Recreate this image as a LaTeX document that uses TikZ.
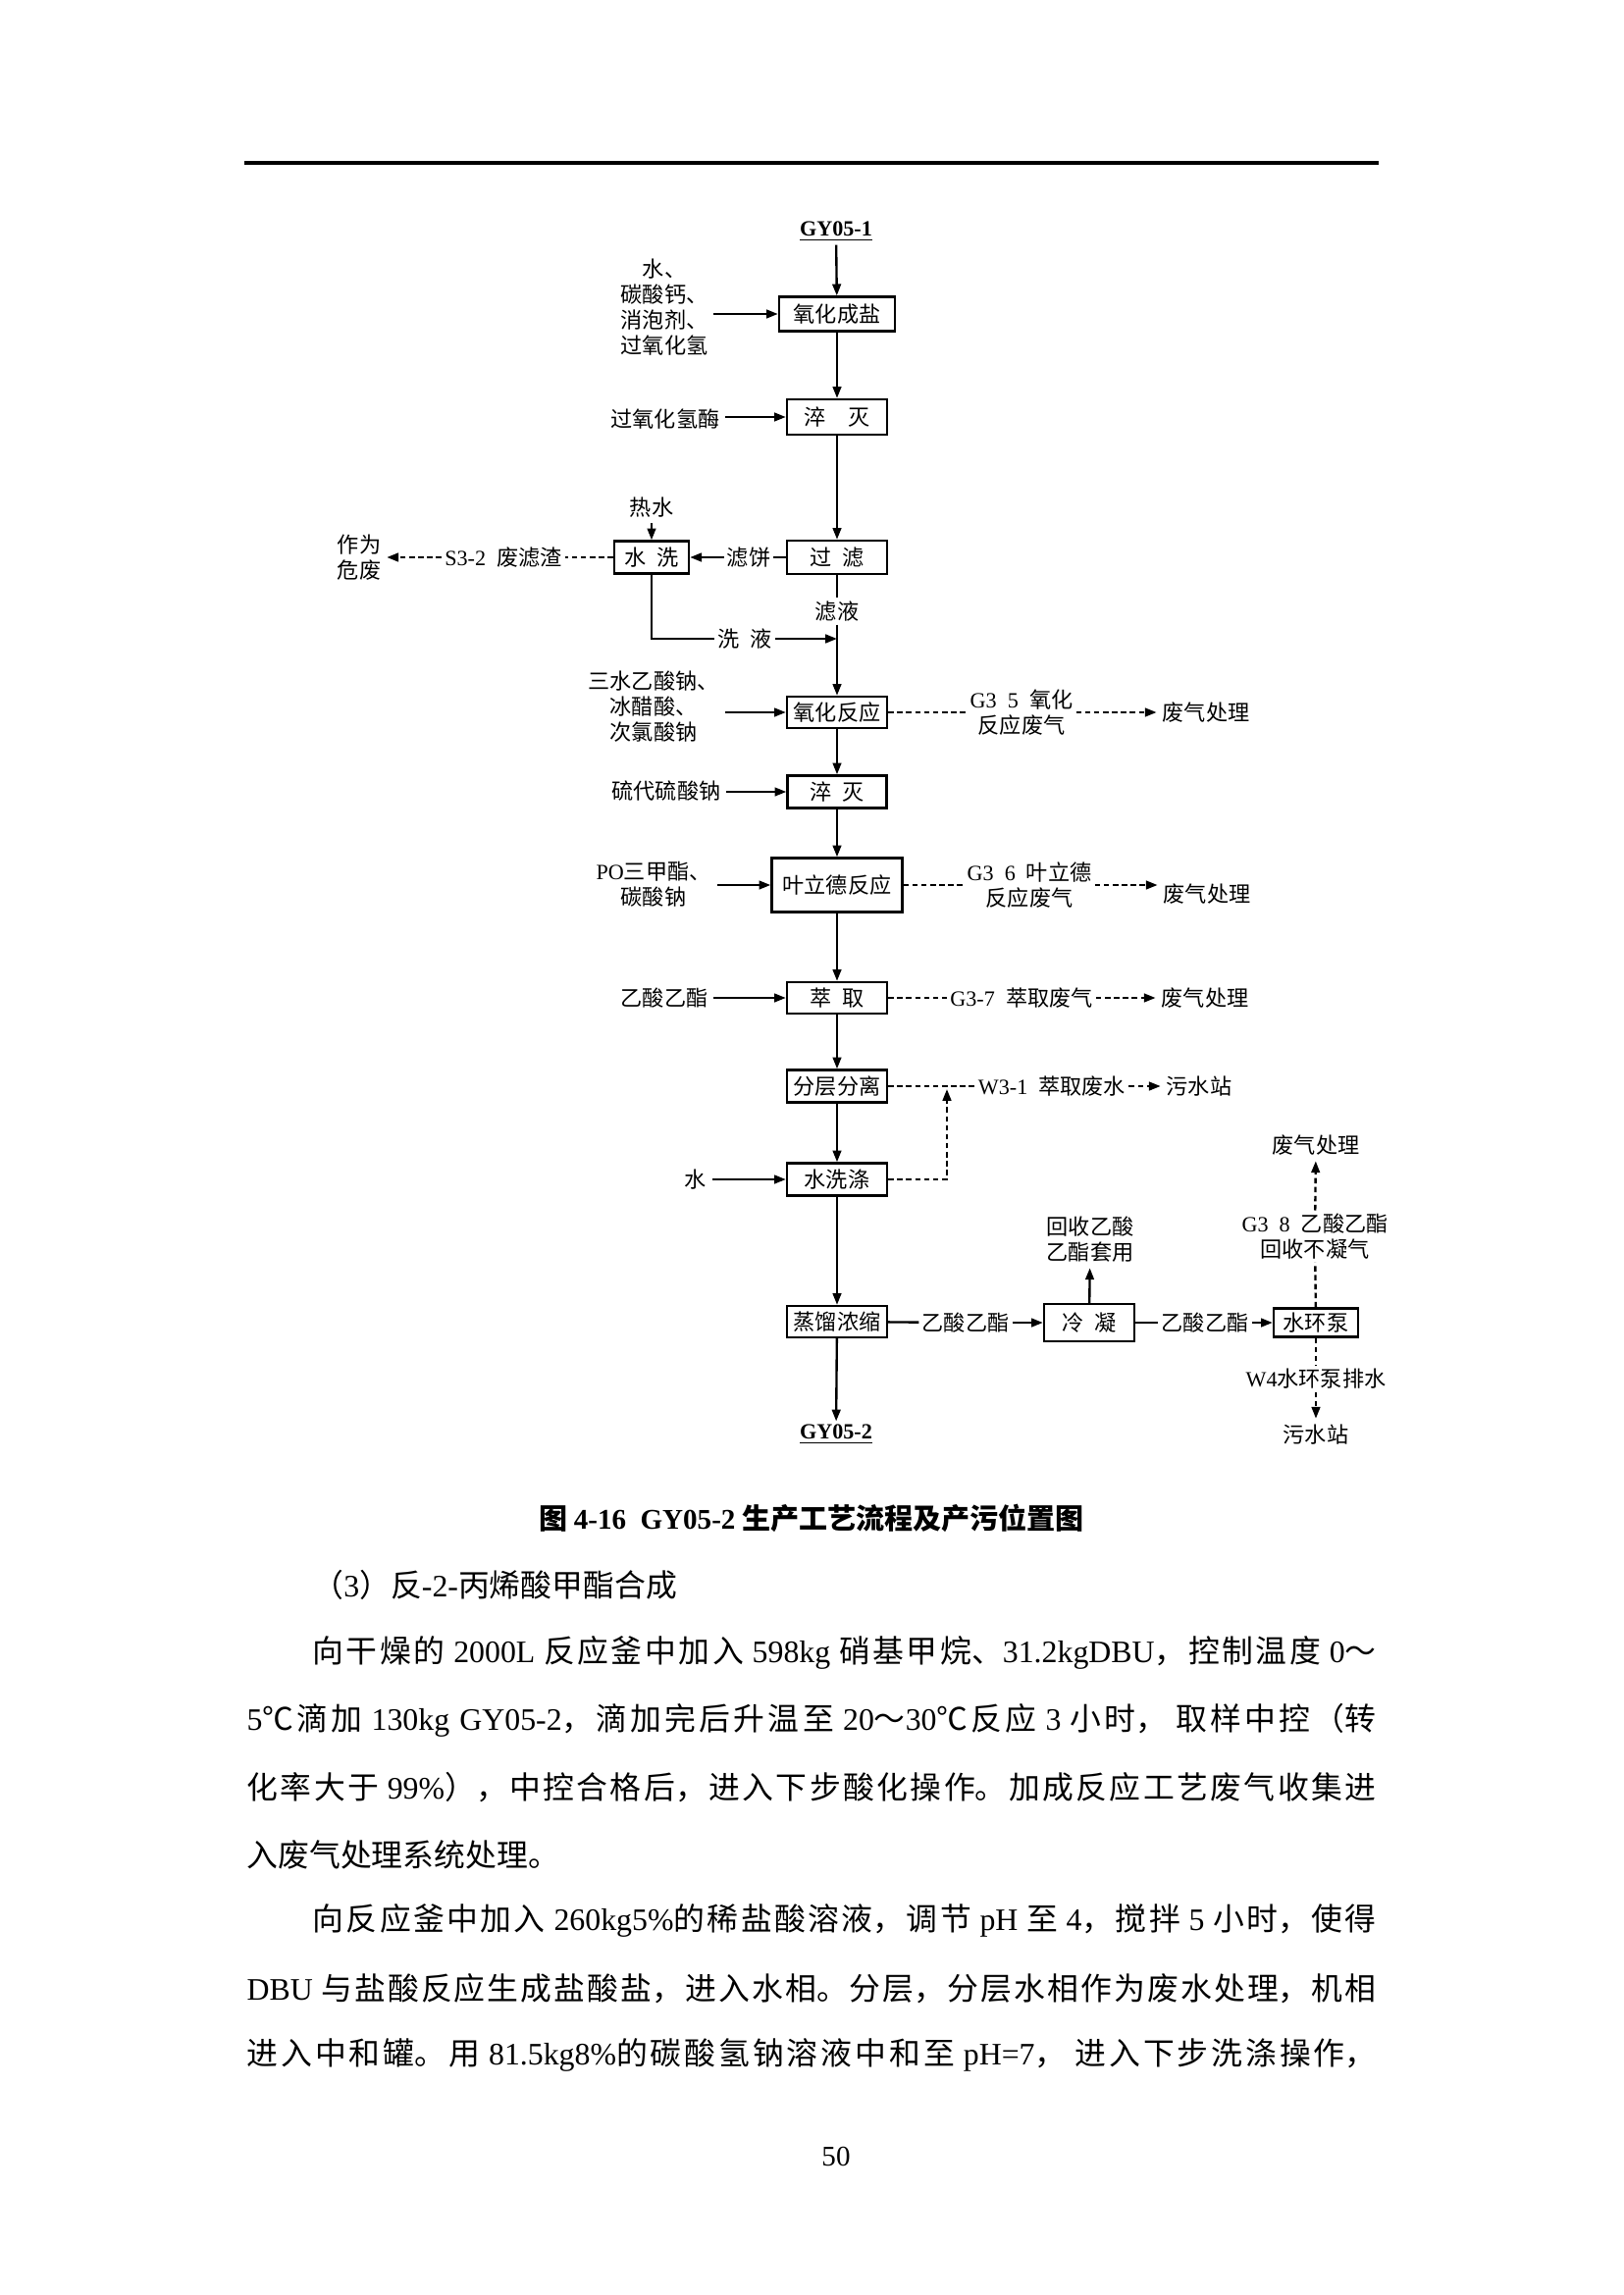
\documentclass[tikz,border=0pt]{standalone}
\usepackage{fontspec}
\setmainfont{Noto Sans CJK SC}
\newfontfamily\tnr{Liberation Serif}
\usetikzlibrary{arrows.meta}
\XeTeXlinebreaklocale "zh"
\XeTeXlinebreakskip=0pt plus 2pt minus 0.3pt
\tolerance=10000
\hbadness=10000
\def\pxmm{0.12697mm}
\newcommand{\lat}[1]{{\tnr #1}}

\begin{document}
\begin{tikzpicture}[
  x=0.12697mm, y=-0.12697mm,
  every node/.style={font=\fontsize{8}{9.4}\selectfont, inner sep=0pt, align=center},
  box/.style 2 args={draw, line width=0.85pt, minimum width=#1*\pxmm, minimum height=#2*\pxmm},
  lbl/.style={inner sep=1pt},
  src/.style={inner sep=2pt},
  arr/.style={-{Triangle[length=1.5mm,width=1.1mm]}, line width=0.85pt},
  ln/.style={line width=0.85pt},
  dsh/.style={line width=0.85pt, dash pattern=on 2pt off 1.3pt},
  dsharr/.style={dsh, -{Triangle[length=1.5mm,width=1.1mm]}},
  txt/.style={font=\fontsize{11.5}{14}\selectfont, anchor=base west, align=left},
  jline/.style={txt, text width=#1*\pxmm, align=justify,
    execute at begin node={\parfillskip=0pt\relax}}
]
\path[fill=white] (0,0) rectangle (1654,2339);
\useasboundingbox (0,0) rectangle (1654,2339);

% page header rule
\draw[line width=0.4mm] (249,166) -- (1405,166);

% main column
\node[lbl] (gy1) at (852,236) {\underline{\lat{\bfseries GY05-1}}};
\node[box={118}{35}] (yhcy) at (853,320) {氧化成盐};
\node[box={102}{36}] (cm1) at (853,425) {淬\quad 灭};
\node[box={102}{34}] (guolv) at (853,568) {过\enspace 滤};
\node[box={76}{33}] (shuixi) at (664,568) {水\enspace 洗};
\node[box={102}{32}] (yhfy) at (853,726) {氧化反应};
\node[box={101}{33}] (cm2) at (853,807) {淬\enspace 灭};
\node[box={133}{55}] (yld) at (853,902) {叶立德反应};
\node[box={102}{32}] (cq) at (853,1017) {萃\enspace 取};
\node[box={102}{33}] (fcfl) at (853,1107) {分层分离};
\node[box={102}{33}] (sxd) at (853,1202) {水洗涤};
\node[box={102}{32}] (zlns) at (853,1347) {蒸馏浓缩};
\node[box={92}{38}] (lengning) at (1110,1348) {冷\enspace 凝};
\node[box={86}{29}] (shb) at (1341,1348) {水环泵};
\node[lbl] (gy2) at (852,1462) {\underline{\lat{\bfseries GY05-2}}};
\coordinate (jxy) at (853,651);
\coordinate (jw) at (965,1110);

% inputs
\node[src] (in1) at (677,313) {水、\\碳酸钙、\\消泡剂、\\过氧化氢};
\node[src] (in2) at (678,427) {过氧化氢酶};
\node[src] (rs) at (664,517) {热水};
\node[src] (in3) at (666,720) {三水乙酸钠、\\冰醋酸、\\次氯酸钠};
\node[src] (in4) at (679,806) {硫代硫酸钠};
\node[src] (in5) at (666,901) {\lat{PO}三甲酯、\\碳酸钠};
\node[src] (in6) at (677,1017) {乙酸乙酯};
\node[src] (in7) at (709,1202) {水};

% line labels
\node[lbl] (lb) at (763,568) {滤饼};
\node[lbl] (ls32) at (513,568) {\lat{S3-2}\enspace 废滤渣};
\node[lbl] (llv) at (853,623) {滤液};
\node[lbl] (lxy) at (759,651) {洗\enspace 液};
\node[lbl] (g35) at (1041,726) {\lat{G3}\enspace\lat{5}\enspace 氧化\\反应废气};
\node[lbl] (g36) at (1049,902) {\lat{G3}\enspace\lat{6}\enspace 叶立德\\反应废气};
\node[lbl] (g37) at (1041,1017) {\lat{G3-7}\enspace 萃取废气};
\node[lbl] (w31) at (1072,1107) {\lat{W3-1}\enspace 萃取废水};
\node[lbl] (ly1) at (984,1348) {乙酸乙酯};
\node[lbl] (ly2) at (1228,1348) {乙酸乙酯};
\node[lbl] (g38) at (1340,1260) {\lat{G3}\enspace\lat{8}\enspace 乙酸乙酯\\回收不凝气};
\node[lbl] (w4) at (1341,1405) {\lat{W4}水环泵排水};

% destinations
\node[src] (wfd) at (366,568) {作为\\危废};
\node[src] (fq1) at (1229,726) {废气处理};
\node[src] (fq2) at (1230,911) {废气处理};
\node[src] (fq3) at (1228,1017) {废气处理};
\node[src] (wsz1) at (1222,1107) {污水站};
\node[src] (hs) at (1111,1263) {回收乙酸\\乙酯套用};
\node[src] (fq4) at (1341,1167) {废气处理};
\node[src] (wsz2) at (1341,1462) {污水站};

% main flow
\draw[arr] (gy1) -- (yhcy);
\draw[arr] (yhcy) -- (cm1);
\draw[arr] (cm1) -- (guolv);
\draw[ln] (guolv) -- (llv);
\draw[ln] (llv) -- (jxy);
\draw[arr] (jxy) -- (yhfy);
\draw[ln] (guolv) -- (lb);
\draw[arr] (lb) -- (shuixi);
\draw[arr] (rs) -- (shuixi);
\draw[ln] (shuixi) |- (lxy);
\draw[arr] (lxy) -- (jxy);
\draw[arr] (yhfy) -- (cm2);
\draw[arr] (cm2) -- (yld);
\draw[arr] (yld) -- (cq);
\draw[arr] (cq) -- (fcfl);
\draw[arr] (fcfl) -- (sxd);
\draw[arr] (sxd) -- (zlns);
\draw[arr] (zlns) -- (gy2);
\draw[ln] (zlns) -- (ly1);
\draw[arr] (ly1) -- (lengning);
\draw[arr] (lengning) -- (hs);
\draw[ln] (lengning) -- (ly2);
\draw[arr] (ly2) -- (shb);

% inputs
\draw[arr] (in1.east |- yhcy) -- (yhcy);
\draw[arr] (in2.east |- cm1) -- (cm1);
\draw[arr] (in3.east |- yhfy) -- (yhfy);
\draw[arr] (in4.east |- cm2) -- (cm2);
\draw[arr] (in5.east |- yld) -- (yld);
\draw[arr] (in6) -- (cq);
\draw[arr] (in7) -- (sxd);

% waste streams
\draw[dsh] (shuixi) -- (ls32);
\draw[dsharr] (ls32) -- (wfd);
\draw[dsh] (yhfy) -- (g35);
\draw[dsharr] (g35) -- (fq1);
\draw[dsh] (yld) -- (g36);
\draw[dsharr] (g36) -- (fq2.west |- yld);
\draw[dsh] (cq) -- (g37);
\draw[dsharr] (g37) -- (fq3);
\draw[dsh] (fcfl) -- (w31);
\draw[dsharr] (w31) -- (wsz1);
\draw[dsharr] (sxd) -| (jw);
\draw[dsh] (shb) -- (g38);
\draw[dsharr] (g38) -- (fq4);
\draw[dsh] (shb) -- (w4);
\draw[dsharr] (w4) -- (wsz2);

% caption and body text
\node[font=\fontsize{10.5}{12}\selectfont\bfseries] (cap) at (827,1547)
  {图 \lat{4-16}\enspace\lat{GY05-2} 生产工艺流程及产污位置图};
\node[txt] (t0) at (318,1627) {（\lat{3}）反\lat{-2-}丙烯酸甲酯合成};
\node[jline=1084] (t1) at (318,1694)
  {向干燥的 \lat{2000L} 反应釜中加入 \lat{598kg} 硝基甲烷、\lat{31.2kgDBU}，控制温度 \lat{0}～};
\node[jline=1151] (t2) at (251,1763)
  {\lat{5}℃滴加 \lat{130kg GY05-2}，滴加完后升温至 \lat{20}～\lat{30}℃反应 \lat{3} 小时， 取样中控（转};
\node[jline=1151] (t3) at (251,1833)
  {化率大于 \lat{99\%}），中控合格后，进入下步酸化操作。加成反应工艺废气收集进};
\node[txt] (t4) at (251,1902) {入废气处理系统处理。};
\node[jline=1084] (t5) at (318,1967)
  {向反应釜中加入 \lat{260kg5\%}的稀盐酸溶液，调节 \lat{pH} 至 \lat{4}，搅拌 \lat{5} 小时，使得};
\node[jline=1151] (t6) at (251,2038)
  {\lat{DBU} 与盐酸反应生成盐酸盐，进入水相。分层，分层水相作为废水处理，机相};
\node[jline=1151] (t7) at (251,2104)
  {进入中和罐。用 \lat{81.5kg8\%}的碳酸氢钠溶液中和至 \lat{pH=7}， 进入下步洗涤操作，};
\node[font=\fontsize{10.5}{12}\selectfont\tnr] (pg) at (852,2198) {50};
\end{tikzpicture}
\end{document}
